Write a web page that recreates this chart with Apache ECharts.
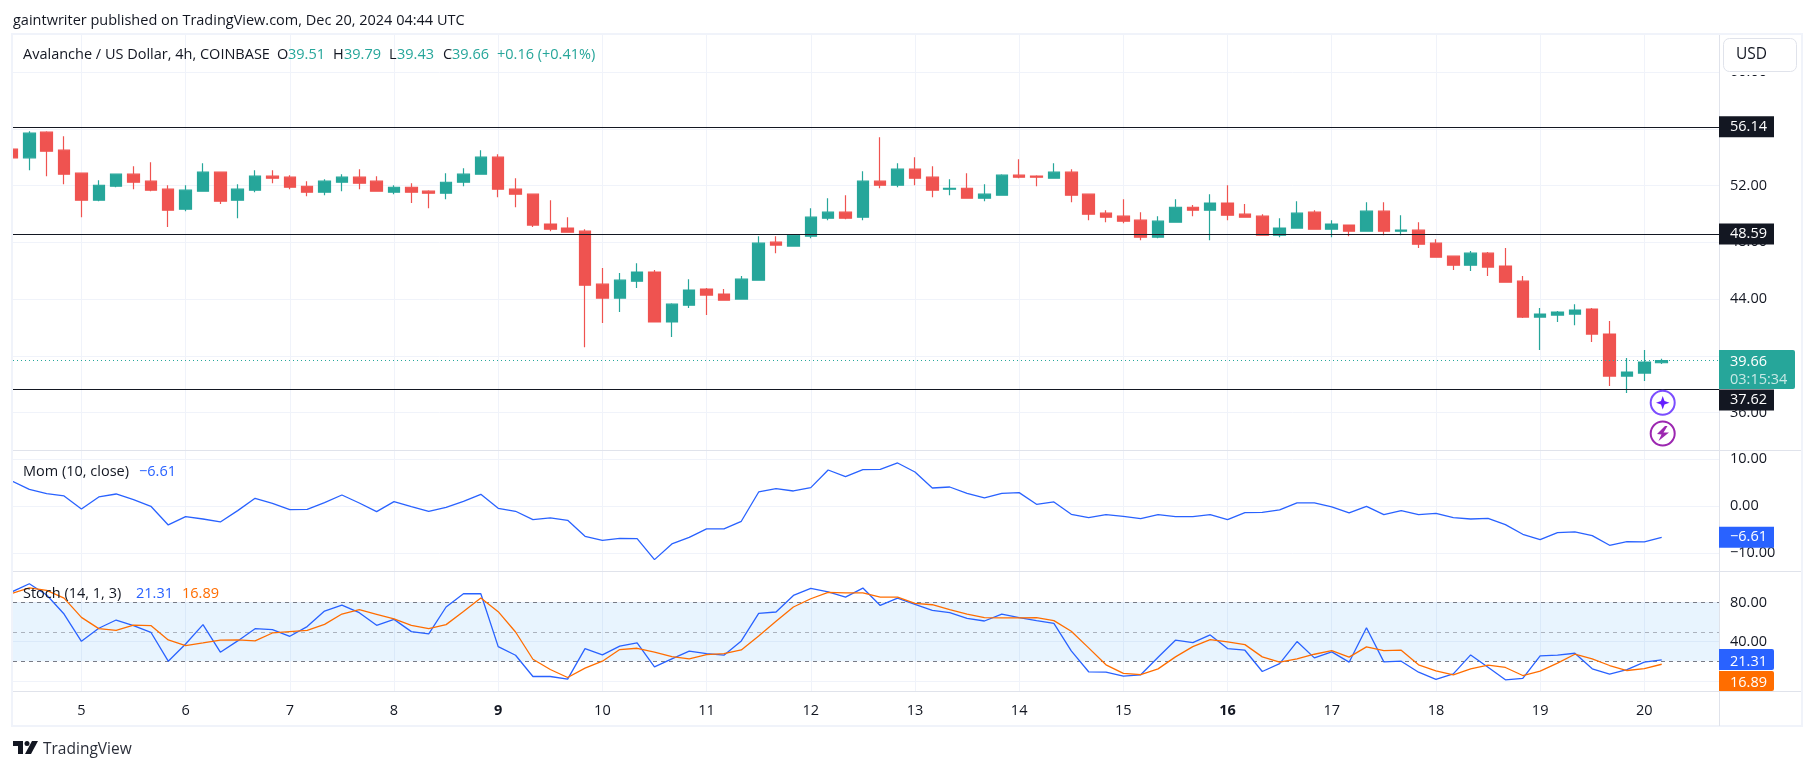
<!DOCTYPE html>
<html>
<head>
<meta charset="utf-8">
<style>html,body{margin:0;padding:0;background:#fff;}#c{width:1814px;height:770px;}</style>
<script src="https://cdn.jsdelivr.net/npm/echarts@6/dist/echarts.min.js"></script>
</head>
<body>
<div id="c"></div>
<script>
var opens = [54.56,53.95,55.76,54.49,52.87,50.97,51.95,52.80,52.31,51.74,50.33,51.60,52.94,50.97,51.67,52.66,52.59,51.95,51.53,52.23,52.59,52.31,51.53,51.88,51.60,51.46,52.23,52.80,54.00,51.74,51.39,49.28,49.00,48.78,45.05,44.07,45.26,45.90,42.38,43.57,44.70,44.35,44.00,45.33,48.01,47.73,48.43,49.70,50.12,49.77,52.31,52.02,53.15,52.59,51.74,51.81,51.11,51.32,52.73,52.66,52.52,52.94,51.39,50.05,49.84,49.56,48.36,49.42,50.47,50.26,50.76,49.98,49.84,48.50,49.00,50.12,48.92,49.21,48.78,50.19,48.78,48.85,47.94,47.02,46.39,47.23,46.32,45.26,42.73,42.87,42.94,43.29,41.53,38.57,38.78,39.51];
var closes = [53.95,55.69,54.42,52.80,50.97,52.02,52.80,52.23,51.67,50.26,51.67,52.94,50.90,51.74,52.66,52.52,51.88,51.53,52.31,52.59,52.16,51.60,51.88,51.53,51.46,52.23,52.80,54.00,51.74,51.39,49.21,48.92,48.71,44.98,44.07,45.33,45.90,42.38,43.64,44.63,44.28,43.92,45.40,47.94,47.80,48.50,49.77,50.12,49.70,52.31,52.02,53.15,52.52,51.67,51.81,51.11,51.39,52.73,52.59,52.59,52.94,51.32,49.98,49.77,49.49,48.36,49.49,50.47,50.26,50.76,49.91,49.77,48.50,49.00,50.05,48.92,49.28,48.78,50.19,48.78,48.85,47.87,46.95,46.39,47.23,46.25,45.19,42.73,42.94,43.08,43.22,41.53,38.57,38.85,39.56,39.66];
var lows = [53.95,53.08,52.66,52.09,49.77,50.90,51.88,51.74,51.60,49.07,50.19,51.60,50.69,49.70,51.53,52.16,51.74,51.25,51.32,51.60,51.74,51.60,51.39,50.76,50.40,51.04,51.95,52.80,51.18,50.47,49.07,48.78,48.71,40.61,42.31,43.08,44.77,42.38,41.32,43.36,42.87,43.92,44.00,45.33,47.23,47.73,48.29,49.56,49.63,49.56,51.81,51.88,52.02,51.18,51.32,51.11,50.90,51.32,52.52,51.95,52.52,50.83,49.56,49.42,49.35,48.15,48.29,49.42,49.84,48.15,49.56,49.77,48.50,48.36,49.00,48.92,48.36,48.43,48.78,48.50,48.50,47.59,46.95,46.04,45.97,45.62,45.19,42.66,40.40,42.38,42.16,40.97,37.87,37.38,38.22,39.43];
var highs = [54.56,55.83,55.83,55.47,52.87,52.38,52.80,53.36,53.64,52.02,52.02,53.57,52.94,52.09,53.08,53.08,52.73,52.31,52.45,52.80,53.15,52.66,52.02,52.16,51.67,52.87,53.22,54.49,54.21,52.52,51.39,50.97,49.77,48.92,46.18,45.83,46.53,46.04,43.71,45.40,44.77,44.70,45.62,48.43,48.43,48.55,50.40,51.11,51.32,53.01,55.40,53.57,54.00,53.36,52.45,52.87,52.09,52.80,53.85,52.73,53.57,53.15,51.39,50.26,51.04,50.12,49.84,51.04,50.62,51.39,52.02,50.69,49.98,49.70,50.90,50.26,49.56,49.21,50.83,50.83,49.91,49.42,48.22,47.02,47.38,47.31,47.59,45.62,43.36,43.15,43.64,43.36,42.45,39.84,40.40,39.79];
var momentum = [5.39,3.62,2.70,2.20,-0.57,1.99,2.62,1.42,0,-3.97,-2.20,-2.70,-3.33,-0.92,1.70,0.64,-0.71,-0.64,0.78,2.41,0.71,-1.13,0.99,-0.07,-1.06,-0.21,1.06,2.55,-0.43,-1.06,-2.84,-2.48,-2.98,-6.38,-7.23,-6.81,-6.88,-11.35,-8.01,-6.60,-4.82,-4.82,-3.19,3.05,3.76,3.26,3.97,7.73,6.31,7.80,7.87,9.22,7.30,3.90,4.11,2.77,1.77,2.77,2.91,0.43,0.92,-1.70,-2.41,-1.77,-2.13,-2.62,-1.77,-2.20,-2.20,-1.77,-2.84,-1.35,-1.28,-0.78,0.71,0.71,-0.14,-1.42,0,-1.77,-0.92,-1.77,-1.49,-2.41,-2.70,-2.55,-3.90,-5.96,-7.09,-5.60,-5.46,-6.24,-8.30,-7.52,-7.59,-6.61];
var stochK = [90.8,99.0,87.5,68.1,40.3,53.6,62.0,56.3,49.5,20.0,37.6,57.3,29.2,40.7,53.2,52.2,45.4,55.3,71.2,77.3,69.5,56.6,62.7,50.2,47.8,75.3,88.8,88.8,34.9,26.1,4.4,4.4,1.7,32.9,26.4,35.3,38.6,14.2,22.4,30.2,27.8,26.1,40.7,68.8,70.2,87.1,94.2,90.8,85.4,94.6,76.9,84.4,77.9,71.9,69.5,63.7,61.0,68.1,64.4,61.4,58.6,30.5,9.2,8.8,4.7,6.1,24.1,41.4,39.0,46.8,32.9,31.2,9.5,17.6,40.0,23.4,29.5,19.0,54.2,19.3,20.0,8.8,1.4,7.1,26.4,13.9,1.0,2.4,25.4,26.1,28.1,12.2,6.8,11.5,19.0,21.31];
var stochD = [89.2,94.9,92.2,84.4,64.7,53.2,51.5,56.9,56.3,41.7,35.9,38.6,41.4,41.7,40.7,48.8,50.2,51.5,57.6,68.1,72.5,67.8,63.1,56.6,53.2,57.3,70.8,84.4,70.5,49.8,22.0,11.5,3.4,12.9,20.0,31.9,33.2,29.2,24.7,22.4,26.8,27.8,31.5,45.8,60.7,75.3,83.7,90.2,89.8,89.8,85.4,85.4,79.0,77.6,72.5,68.1,64.4,64.1,64.1,64.4,61.4,50.5,33.6,16.3,7.5,6.4,12.2,24.4,34.9,42.0,39.7,36.9,24.4,19.0,22.4,27.1,30.8,24.1,34.6,30.8,31.2,16.3,10.2,6.1,12.2,15.9,13.6,5.4,9.8,18.0,27.1,22.4,15.6,10.5,12.5,16.89];
var dayLabels = [5,6,7,8,9,10,11,12,13,14,15,16,17,18,19,20];
var dayTicks = [4,10,16,22,28,34,40,46,52,58,64,70,76,82,88,94];
var boldDays = [9,16];
var priceTicks = [36,40,44,48,52,56,60];
var momTicks = [-10,0,10];
var stochTicks = [0,40,80];
var levelLines = [56.14,48.59,37.62];
var lastPrice = 39.66;

var UP='#26a69a', DOWN='#ef5350', BLUE='#2962ff', ORANGE='#ff6d00', INK='#131722', GRID='#f0f3fa', SEP='#e0e3eb';
var FONT='"Open Sans", Roboto, sans-serif';
var F='14.5px '+FONT;
var XMIN=0.06, XMAX=98.3;

function pair(arr){return arr.map(function(v,i){return [i,v];});}
var candleData = opens.map(function(o,i){return [i,o,closes[i],lows[i],highs[i]];});

function xAxis(idx,labels){
  return {type:'value',gridIndex:idx,min:XMIN,max:XMAX,
    axisLine:{show:false},
    axisTick:{show:false,customValues:dayTicks},
    splitLine:{show:true,lineStyle:{color:GRID,width:1}},
    axisLabel:{show:!!labels,customValues:dayTicks,margin:12,color:INK,fontFamily:FONT,fontSize:14.5,
      formatter:function(v){var d=dayLabels[dayTicks.indexOf(v)];
        return boldDays.indexOf(d)>=0?'{b|'+d+'}':''+d;},
      rich:{b:{fontWeight:'bold',color:INK,fontFamily:FONT,fontSize:14.5}}}};
}
function yAxis(idx,min,max,ticks){
  return {type:'value',gridIndex:idx,position:'right',min:min,max:max,scale:true,
    axisLine:{show:true,lineStyle:{color:SEP,width:1}},
    axisTick:{show:false,customValues:ticks},
    splitLine:{show:true,lineStyle:{color:GRID,width:1}},
    axisLabel:{show:true,customValues:ticks,margin:11,color:INK,fontFamily:FONT,fontSize:14.5,align:'left',padding:[5,0,0,0],
      formatter:function(v){return v.toFixed(2).replace('-','\u2212');}}};
}
function boxLabel(bg,txt,dy){
  return {show:true,position:'end',distance:0,offset:[0,dy||0],formatter:txt,color:'#fff',backgroundColor:bg,
    fontFamily:FONT,fontSize:14.5,padding:[5,8,1,11],width:36,height:15,lineHeight:15,align:'left'};
}
var option={
  animation:false,backgroundColor:'#fff',
  grid:[
    {left:13,top:34,width:1706,height:416},
    {left:13,top:451,width:1706,height:120},
    {left:13,top:572,width:1706,height:119}
  ],
  xAxis:[xAxis(0,false),xAxis(1,false),xAxis(2,true)],
  yAxis:[yAxis(0,33.36,62.68,priceTicks),yAxis(1,-13.77,11.77,momTicks),yAxis(2,-10.4,111,stochTicks)],
  series:[
    {type:'candlestick',xAxisIndex:0,yAxisIndex:0,barWidth:12,clip:true,data:candleData,
      itemStyle:{color:UP,color0:DOWN,borderColor:UP,borderColor0:DOWN,borderWidth:1.2},
      markLine:{silent:true,symbol:'none',animation:false,z:20,
        data:levelLines.map(function(v){return {yAxis:v,
          lineStyle:{color:INK,width:1.2,type:'solid'},
          label:boxLabel(INK,v.toFixed(2),v===37.62?10.5:0)};}).concat([{yAxis:lastPrice,
          lineStyle:{color:UP,width:1,type:[1,3]},label:{show:false}}])}},
    {type:'line',xAxisIndex:1,yAxisIndex:1,data:pair(momentum),showSymbol:false,lineStyle:{color:BLUE,width:1.3},
      markLine:{silent:true,symbol:'none',animation:false,z:20,
        data:[{yAxis:momentum[momentum.length-1],lineStyle:{color:'rgba(0,0,0,0)',width:1},
          label:boxLabel(BLUE,'\u2212'+Math.abs(momentum[momentum.length-1]).toFixed(2))}]}},
    {type:'line',xAxisIndex:2,yAxisIndex:2,data:pair(stochK),showSymbol:false,lineStyle:{color:BLUE,width:1.3},z:4,
      markArea:{silent:true,animation:false,itemStyle:{color:'rgba(33,150,243,0.1)'},data:[[{yAxis:80},{yAxis:20}]]},
      markLine:{silent:true,symbol:'none',animation:false,z:3,
        data:[
          {yAxis:80,lineStyle:{color:'#787b86',width:1,type:[4,4]},label:{show:false}},
          {yAxis:50,lineStyle:{color:'rgba(120,123,134,0.55)',width:1,type:[4,4]},label:{show:false}},
          {yAxis:20,lineStyle:{color:'#787b86',width:1,type:[4,4]},label:{show:false}}
        ]}},
    {type:'line',xAxisIndex:2,yAxisIndex:2,data:pair(stochD),showSymbol:false,lineStyle:{color:ORANGE,width:1.3},z:5}
  ],
  graphic:[
    {type:'rect',z:45,shape:{x:0,y:35,width:11,height:415},style:{fill:'#fff'}},
    {type:'rect',z:50,shape:{x:11,y:33,width:1792,height:2},style:{fill:GRID}},
    {type:'rect',z:50,shape:{x:11,y:33,width:2,height:693},style:{fill:GRID}},
    {type:'rect',z:50,shape:{x:1801,y:33,width:2,height:693},style:{fill:GRID}},
    {type:'rect',z:50,shape:{x:11,y:725,width:1792,height:2},style:{fill:GRID}},
    {type:'rect',z:50,shape:{x:13,y:450,width:1788,height:1},style:{fill:SEP}},
    {type:'rect',z:50,shape:{x:13,y:571,width:1788,height:1},style:{fill:SEP}},
    {type:'rect',z:50,shape:{x:13,y:691,width:1788,height:1},style:{fill:SEP}},
    {type:'rect',z:50,shape:{x:1719,y:691,width:1,height:35},style:{fill:SEP}},
    {type:'text',z:60,x:13,y:21,style:{text:'gaintwriter published on TradingView.com, Dec 20, 2024 04:44 UTC',fill:INK,font:F,verticalAlign:'middle'}},
    {type:'text',z:60,x:23,y:55,style:{text:'Avalanche / US Dollar, 4h, COINBASE',fill:INK,font:F,verticalAlign:'middle'}},
    {type:'text',z:60,x:277,y:55,style:{text:'O',fill:INK,font:F,verticalAlign:'middle'}},
    {type:'text',z:60,x:288,y:55,style:{text:'39.51',fill:UP,font:F,verticalAlign:'middle'}},
    {type:'text',z:60,x:333,y:55,style:{text:'H',fill:INK,font:F,verticalAlign:'middle'}},
    {type:'text',z:60,x:344,y:55,style:{text:'39.79',fill:UP,font:F,verticalAlign:'middle'}},
    {type:'text',z:60,x:389,y:55,style:{text:'L',fill:INK,font:F,verticalAlign:'middle'}},
    {type:'text',z:60,x:397,y:55,style:{text:'39.43',fill:UP,font:F,verticalAlign:'middle'}},
    {type:'text',z:60,x:443,y:55,style:{text:'C',fill:INK,font:F,verticalAlign:'middle'}},
    {type:'text',z:60,x:452,y:55,style:{text:'39.66',fill:UP,font:F,verticalAlign:'middle'}},
    {type:'text',z:60,x:497,y:55,style:{text:'+0.16 (+0.41%)',fill:UP,font:F,verticalAlign:'middle'}},
    {type:'text',z:60,x:23,y:472,style:{text:'Mom (10, close)',fill:INK,font:F,verticalAlign:'middle'}},
    {type:'text',z:60,x:139,y:472,style:{text:'\u22126.61',fill:BLUE,font:F,verticalAlign:'middle'}},
    {type:'text',z:60,x:23,y:594,style:{text:'Stoch (14, 1, 3)',fill:INK,font:F,verticalAlign:'middle'}},
    {type:'text',z:60,x:136,y:594,style:{text:'21.31',fill:BLUE,font:F,verticalAlign:'middle'}},
    {type:'text',z:60,x:182,y:594,style:{text:'16.89',fill:ORANGE,font:F,verticalAlign:'middle'}},
    {type:'rect',z:59,shape:{x:1720,y:35,width:81,height:40},style:{fill:'#fff'}},
    {type:'rect',z:60,shape:{x:1723.5,y:38.5,width:73,height:33,r:6},style:{fill:'#fff',stroke:SEP,lineWidth:1}},
    {type:'text',z:61,x:1736,y:55,style:{text:'USD',fill:INK,font:'15.5px '+FONT,verticalAlign:'middle'}},
    {type:'rect',z:60,shape:{x:1719,y:350,width:76,height:39,r:[0,2,2,0]},style:{fill:UP}},
    {type:'text',z:61,x:1730,y:361.5,style:{text:'39.66',fill:'#fff',font:F,verticalAlign:'middle'}},
    {type:'text',z:61,x:1730,y:380,style:{text:'03:15:34',fill:'rgba(255,255,255,0.75)',font:F,verticalAlign:'middle'}},
    {type:'rect',z:60,shape:{x:1719,y:649,width:55,height:21,r:[0,2,2,0]},style:{fill:BLUE}},
    {type:'text',z:61,x:1730,y:662,style:{text:'21.31',fill:'#fff',font:F,verticalAlign:'middle'}},
    {type:'rect',z:60,shape:{x:1719,y:671,width:55,height:20,r:[0,2,2,0]},style:{fill:ORANGE}},
    {type:'text',z:61,x:1730,y:683,style:{text:'16.89',fill:'#fff',font:F,verticalAlign:'middle'}},
    {type:'circle',z:60,shape:{cx:1662.7,cy:402.7,r:12},style:{fill:'#fff',stroke:'#7b4dff',lineWidth:2}},
    {type:'polygon',z:61,shape:{points:[[1662.7,396],[1664.5,401],[1669.5,402.7],[1664.5,404.5],[1662.7,409.5],[1661,404.5],[1656,402.7],[1661,401]]},style:{fill:'#651fff'}},
    {type:'circle',z:60,shape:{cx:1662.7,cy:433.5,r:12},style:{fill:'#fff',stroke:'#9c27b0',lineWidth:2}},
    {type:'polygon',z:61,shape:{points:[[1665,426],[1657,434],[1661.5,434.5],[1658.5,441],[1669,432.5],[1663.5,432.5],[1667.5,426]]},style:{fill:'#9c27b0'}},
    {type:'polygon',z:60,shape:{points:[[13,741],[23,741],[23,754],[18,754],[18,746],[13,746]]},style:{fill:INK}},
    {type:'circle',z:60,shape:{cx:27,cy:743.5,r:2.5},style:{fill:INK}},
    {type:'polygon',z:60,shape:{points:[[32,741],[38,741],[31,754],[25,754]]},style:{fill:INK}},
    {type:'text',z:60,x:43,y:749.5,style:{text:'TradingView',fill:'#2a2e39',font:'15.5px '+FONT,verticalAlign:'middle'}}
  ]
};
var chart=echarts.init(document.getElementById('c'),null,{renderer:'canvas'});
chart.setOption(option);
</script>
</body>
</html>
